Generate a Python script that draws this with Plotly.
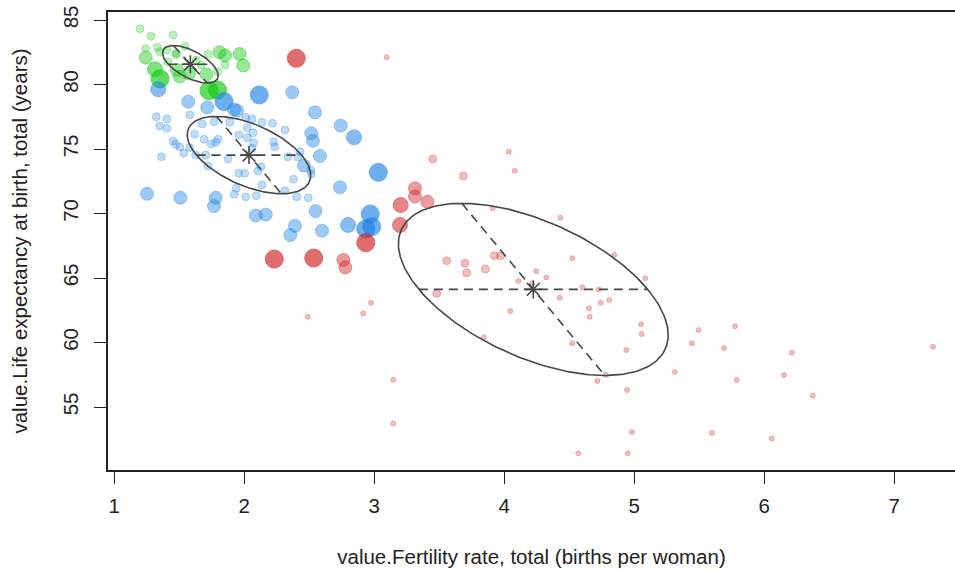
import numpy as np
import plotly.graph_objects as go

# ---------------- data ----------------
# population class: 0 tiny, 1 small, 2 medium, 3 medium-large, 4 large
green_x = [1.198, 1.282, 1.452, 1.242, 1.242, 1.331, 1.349, 1.403, 1.477, 1.544,
           1.723, 1.809, 1.852, 1.963, 1.992, 1.852, 1.313, 1.352, 1.482, 1.502,
           1.575, 1.709, 1.794, 1.669, 1.728, 1.794, 1.475, 1.413, 1.631]
green_y = [84.33, 83.74, 83.84, 82.79, 82.08, 82.88, 82.54, 82.67, 82.34, 82.96,
           82.34, 82.50, 82.25, 82.36, 81.47, 81.51, 81.18, 80.44, 81.12, 80.62,
           80.85, 80.78, 80.99, 81.51, 79.53, 79.57, 82.42, 81.74, 81.90]
green_pop = [1, 1, 1, 1, 2, 1, 1, 1, 1, 1,
             1, 2, 2, 2, 2, 1, 3, 4, 2, 2,
             2, 2, 1, 1, 4, 4, 1, 1, 1]

blue_x = [1.844, 2.115, 3.031, 2.969, 2.934, 2.980, 1.338, 2.844, 2.798, 2.742,
          1.569, 1.715, 1.921, 1.944, 2.369, 2.544, 2.515, 2.528, 2.582, 2.459,
          2.736, 1.252, 1.509, 1.780, 1.767, 2.088, 2.165, 2.548, 2.390, 2.354,
          2.598,
          1.323, 1.405, 1.349, 1.405, 1.580, 1.677, 1.767, 1.888, 2.011, 2.059,
          2.136, 2.217, 2.313, 2.023, 2.067, 1.959, 2.023, 1.618, 1.690, 1.798,
          1.746, 1.780, 1.452, 1.472, 1.503, 1.580, 1.534, 1.362, 1.626, 1.703,
          1.875, 1.721, 2.072, 2.059, 2.226, 2.234, 2.336, 2.413, 2.428, 2.511,
          2.515, 2.105, 2.128, 1.957, 2.003, 2.136, 2.378, 1.938, 1.923, 2.011,
          2.092, 2.313, 2.403, 2.492]
blue_y = [78.68, 79.19, 73.19, 69.96, 68.80, 68.98, 79.63, 75.91, 69.11, 76.81,
          78.67, 78.23, 78.06, 77.98, 79.40, 77.84, 76.22, 75.64, 74.46, 73.71,
          72.03, 71.53, 71.22, 71.22, 70.58, 69.84, 69.92, 70.19, 69.05, 68.33,
          68.67,
          77.50, 77.33, 76.78, 76.60, 77.64, 76.94, 77.12, 77.07, 77.46, 77.33,
          77.07, 76.99, 76.47, 76.65, 76.26, 76.09, 75.88, 76.14, 75.75, 75.75,
          75.39, 75.52, 75.62, 75.36, 75.16, 75.10, 74.67, 74.40, 74.53, 74.53,
          74.22, 73.68, 75.49, 75.05, 75.57, 75.18, 74.40, 74.36, 74.79, 73.37,
          73.06, 73.29, 73.63, 73.12, 73.12, 72.21, 72.65, 71.95, 71.49, 71.30,
          71.38, 71.77, 71.30, 71.22]
blue_pop = [4, 4, 4, 4, 4, 4, 3, 3, 3, 2,
            2, 2, 2, 2, 2, 2, 2, 2, 2, 2,
            2, 2, 2, 2, 2, 2, 2, 2, 2, 2,
            2] + [1] * 54

red_x = [2.400, 2.231, 2.534, 2.934, 3.203, 3.198, 2.762, 2.777, 3.313, 3.313,
         3.409, 3.449, 3.685, 3.557, 3.698, 3.711, 3.854, 3.923, 3.972, 3.480,
         3.095, 4.034, 4.080, 3.911, 4.431, 4.523, 4.846, 5.085, 4.246, 4.323,
         4.108, 4.213, 4.600, 4.726, 4.426, 4.742, 4.808, 4.652, 4.657, 4.046,
         3.842, 5.052, 5.057, 5.494, 5.442, 4.523, 4.938, 5.311, 4.715, 4.780,
         4.944, 3.146, 3.146, 4.982, 4.569, 4.949, 5.775, 5.690, 6.211, 5.788,
         6.152, 6.372, 5.598, 6.057, 7.298, 2.975, 2.915, 2.488]
red_y = [82.03, 66.47, 66.55, 67.74, 70.66, 69.11, 66.40, 65.83, 71.95, 71.32,
         70.91, 74.22, 72.91, 66.34, 66.14, 65.41, 65.70, 66.73, 66.73, 63.81,
         82.11, 74.79, 73.32, 70.40, 69.67, 66.53, 66.78, 64.98, 65.54, 65.05,
         64.77, 64.59, 64.28, 64.12, 63.47, 63.08, 63.29, 62.65, 62.00, 62.44,
         60.40, 61.41, 60.66, 60.97, 59.94, 59.94, 59.42, 57.71, 57.02, 57.50,
         56.32, 57.12, 53.74, 53.06, 51.41, 51.41, 61.26, 59.57, 59.21, 57.09,
         57.48, 55.88, 52.98, 52.57, 59.67, 63.08, 62.26, 62.00]
red_pop = [4, 4, 4, 4, 3, 3, 2, 2, 2, 2,
           2, 1, 1, 1, 1, 1, 1, 1, 1, 1] + [0] * 48

# group data ellipses: centre, horizontal semi-diameter, conjugate (top) semi-diameter
ell_names = ["green", "blue", "red"]
ell_cx = [1.585, 2.036, 4.223]
ell_cy = [81.57, 74.53, 64.12]
ell_h = [0.17, 0.404, 0.88]
ell_u = [-0.13, -0.25, -0.55]
ell_v = [1.45, 3.0, 6.67]

x_ticks = [1, 2, 3, 4, 5, 6, 7]
y_ticks = [55, 60, 65, 70, 75, 80, 85]
x_title = "value.Fertility rate, total (births per woman)"
y_title = "value.Life expectancy at birth, total (years)"

# ---------------- styling ----------------
base_rgb = {"green": (10, 200, 10), "blue": (25, 130, 230), "red": (205, 25, 25)}
size_map = {0: 5, 1: 8, 2: 13, 3: 15, 4: 18}
alpha_map = {0: 0.4, 1: 0.4, 2: 0.6, 3: 0.75, 4: 0.9}
INK = "#474747"
FONT = "Liberation Sans, Arial, Helvetica, sans-serif"
FS = 20.5

fig = go.Figure()


def add_group(name, xs, ys, pops):
    r, g, b = base_rgb[name]
    cols = [f"rgba({r},{g},{b},{alpha_map[p]})" for p in pops]
    fig.add_trace(go.Scatter(
        x=xs, y=ys, mode="markers", showlegend=False, hoverinfo="skip",
        marker=dict(size=[size_map[p] for p in pops], color=cols,
                    line=dict(color=cols, width=1))))


add_group("green", green_x, green_y, green_pop)
add_group("blue", blue_x, blue_y, blue_pop)
add_group("red", red_x, red_y, red_pop)

t = np.linspace(0, 2 * np.pi, 241)
for cx, cy, h, u, v in zip(ell_cx, ell_cy, ell_h, ell_u, ell_v):
    ex = cx + h * np.cos(t) + u * np.sin(t)
    ey = cy + v * np.sin(t)
    fig.add_trace(go.Scatter(x=ex, y=ey, mode="lines", showlegend=False,
                             hoverinfo="skip", line=dict(color=INK, width=1.6)))
    fig.add_trace(go.Scatter(x=[cx - h, cx + h], y=[cy, cy], mode="lines",
                             showlegend=False, hoverinfo="skip",
                             line=dict(color=INK, width=1.6, dash="9px,6px")))
    fig.add_trace(go.Scatter(x=[cx + u, cx - u], y=[cy + v, cy - v], mode="lines",
                             showlegend=False, hoverinfo="skip",
                             line=dict(color=INK, width=1.6, dash="9px,6px")))
    fig.add_trace(go.Scatter(x=[cx], y=[cy], mode="markers", showlegend=False,
                             hoverinfo="skip",
                             marker=dict(symbol="asterisk-open", size=15, color=INK,
                                         line=dict(color=INK, width=1.6))))

axis_common = dict(showgrid=False, zeroline=False, showline=True, linecolor="#222",
                   linewidth=1.6, ticks="outside", ticklen=12, tickwidth=1.4,
                   tickcolor="#222", tickfont=dict(family=FONT, size=FS, color="#222"))

fig.update_layout(
    width=955, height=571,
    margin=dict(l=108, r=0, t=12, b=101),
    plot_bgcolor="white", paper_bgcolor="white",
    xaxis=dict(range=[0.9515, 7.467], tickvals=x_ticks, mirror=True,
               ticklabelstandoff=5,
               title=dict(text=x_title, font=dict(family=FONT, size=FS, color="#222"),
                          standoff=33),
               **axis_common),
    yaxis=dict(range=[50.12, 85.62], tickvals=y_ticks, tickangle=-90,
               ticklabelstandoff=8,
               title=dict(text=y_title, font=dict(family=FONT, size=FS, color="#222"),
                          standoff=26),
               **axis_common),
)

fig.write_html("out.html")
